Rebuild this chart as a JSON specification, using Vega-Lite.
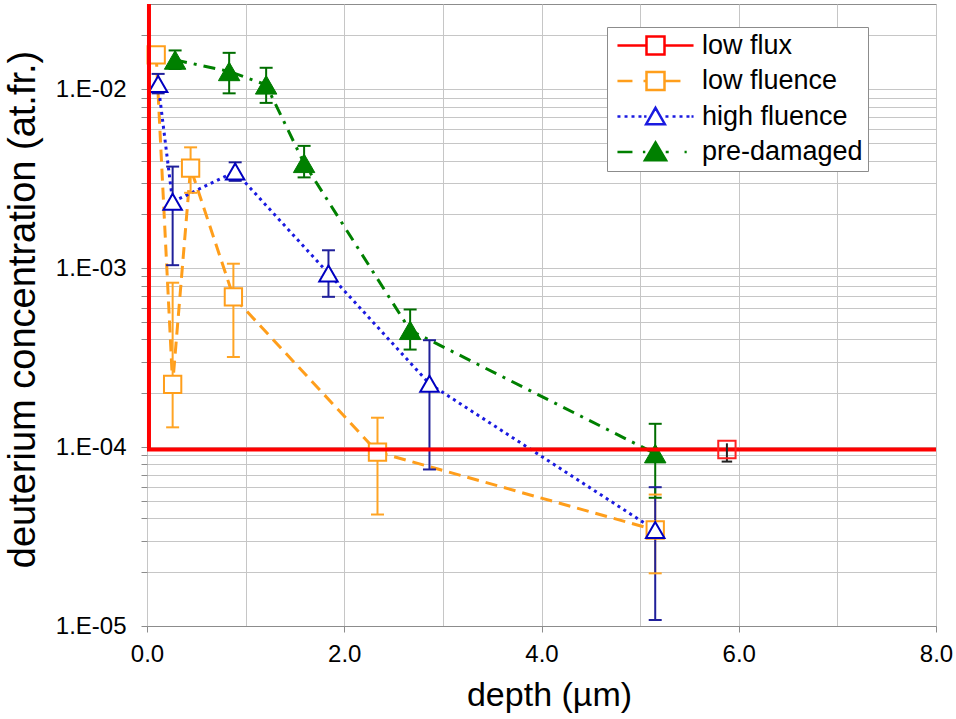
{
  "$schema": "https://vega.github.io/schema/vega-lite/v6.json",
  "width": 789,
  "height": 622,
  "autosize": {"type": "none"},
  "padding": {"left": 147, "top": 4, "right": 20, "bottom": 93},
  "background": "white",
  "config": {
    "font": "Liberation Sans",
    "view": {"stroke": "#8c8c8c", "strokeWidth": 1}
  },
  "datasets": {
    "pts": [
      {"series": "low fluence", "x": 0.093, "y": 0.0156, "lo": 0.0141, "hi": 0.0168},
      {"series": "low fluence", "x": 0.26, "y": 0.000224, "lo": 0.000129, "hi": 0.00083},
      {"series": "low fluence", "x": 0.442, "y": 0.00363, "lo": 0.00264, "hi": 0.00474},
      {"series": "low fluence", "x": 0.876, "y": 0.000692, "lo": 0.000319, "hi": 0.00106},
      {"series": "low fluence", "x": 2.337, "y": 0.0000938, "lo": 0.000042, "hi": 0.000146},
      {"series": "low fluence", "x": 5.153, "y": 0.0000344, "lo": 0.0000197, "hi": 0.0000543},
      {"series": "high fluence", "x": 0.113, "y": 0.0107, "lo": 0.0095, "hi": 0.0122},
      {"series": "high fluence", "x": 0.26, "y": 0.00235, "lo": 0.00104, "hi": 0.0037},
      {"series": "high fluence", "x": 0.894, "y": 0.00347, "lo": 0.00308, "hi": 0.00391},
      {"series": "high fluence", "x": 1.84, "y": 0.000935, "lo": 0.000692, "hi": 0.00126},
      {"series": "high fluence", "x": 2.864, "y": 0.000226, "lo": 0.000075, "hi": 0.000396},
      {"series": "high fluence", "x": 5.153, "y": 0.0000344, "lo": 0.0000108, "hi": 0.0000597},
      {"series": "pre-damaged", "x": 0.285, "y": 0.0146, "lo": 0.013, "hi": 0.0165},
      {"series": "pre-damaged", "x": 0.833, "y": 0.0126, "lo": 0.0095, "hi": 0.016},
      {"series": "pre-damaged", "x": 1.208, "y": 0.0106, "lo": 0.0084, "hi": 0.0132},
      {"series": "pre-damaged", "x": 1.593, "y": 0.00386, "lo": 0.00322, "hi": 0.00483},
      {"series": "pre-damaged", "x": 2.668, "y": 0.00045, "lo": 0.000351, "hi": 0.000588},
      {"series": "pre-damaged", "x": 5.153, "y": 0.000092, "lo": 0.0000521, "hi": 0.000135}
    ],
    "flux": [
      {"series": "low flux", "i": 0, "x": 0.02, "y": 0.03},
      {"series": "low flux", "i": 1, "x": 0.02, "y": 0.000097},
      {"series": "low flux", "i": 2, "x": 8.0, "y": 0.000097}
    ],
    "fluxpt": [
      {"series": "low flux", "x": 5.88, "y": 0.000097, "lo": 0.000083, "hi": 0.000105}
    ]
  },
  "layer": [
    {
      "data": {"name": "pts"},
      "mark": {"type": "line", "interpolate": "linear", "strokeWidth": 3},
      "encoding": {
        "x": {
          "field": "x", "type": "quantitative",
          "scale": {"domain": [0, 8], "nice": false, "zero": false},
          "axis": {
            "title": "depth (µm)",
            "values": [0, 1, 2, 3, 4, 5, 6, 7, 8],
            "labelExpr": "datum.value % 2 == 0 ? format(datum.value, '.1f') : ''",
            "grid": true, "gridColor": "#c6c6c6", "gridWidth": 1,
            "domain": true, "domainColor": "#8c8c8c",
            "ticks": true, "tickColor": "#8c8c8c", "tickSize": 6,
            "tickOpacity": {"condition": {"test": "datum.value % 2 == 0", "value": 1}, "value": 0},
            "labelFontSize": 24, "labelColor": "black", "labelPadding": 10,
            "labelFlush": false, "labelOverlap": false,
            "titleFontSize": 34, "titleFontWeight": "normal", "titleColor": "black",
            "titleBaseline": "alphabetic", "titleX": 402, "titleY": 79
          }
        },
        "y": {
          "field": "y", "type": "quantitative",
          "scale": {"type": "log", "domain": [0.00001, 0.03], "nice": false},
          "axis": {
            "title": "deuterium concentration (at.fr.)",
            "values": [0.00001, 0.00002, 0.00003, 0.00004, 0.00005, 0.00006, 0.00007, 0.00008, 0.00009,
                       0.0001, 0.0002, 0.0003, 0.0004, 0.0005, 0.0006, 0.0007, 0.0008, 0.0009,
                       0.001, 0.002, 0.003, 0.004, 0.005, 0.006, 0.007, 0.008, 0.009,
                       0.01, 0.02],
            "labelExpr": "abs(log(datum.value)/LN10 - round(log(datum.value)/LN10)) < 0.01 ? '1.E-0' + format(-round(log(datum.value)/LN10), 'd') : ''",
            "grid": true, "gridColor": "#c6c6c6", "gridWidth": 1,
            "domain": false,
            "ticks": true, "tickColor": "#8c8c8c", "tickSize": 6,
            "labelFontSize": 24, "labelColor": "black", "labelPadding": 15,
            "labelOverlap": false, "labelBound": false, "labelFlush": false,
            "titleFontSize": 38, "titleFontWeight": "normal", "titleColor": "black",
            "titleAngle": 270, "titleAlign": "center", "titleBaseline": "alphabetic",
            "titleX": -113, "titleY": 305
          }
        },
        "color": {
          "field": "series", "type": "nominal",
          "scale": {
            "domain": ["low flux", "low fluence", "high fluence", "pre-damaged"],
            "range": ["#ff0000", "#ff9e1b", "#1a1ae0", "#008000"]
          },
          "legend": {
            "title": null,
            "orient": "none", "legendX": 460, "legendY": 23,
            "fillColor": "white", "strokeColor": "#8c8c8c", "padding": 5,
            "labelFontSize": 27, "labelColor": "black", "labelLimit": 300,
            "symbolSize": 576, "symbolStrokeWidth": 2.5,
            "symbolOffset": 30, "labelOffset": 33, "rowPadding": 6.5,
            "encode": {
              "symbols": {
                "update": {
                  "shape": [
                    {"test": "datum.value == 'low flux'", "value": "M-3.17,0H-0.75M0.75,0H3.17M-0.75,-0.75H0.75V0.75H-0.75Z"},
                    {"test": "datum.value == 'low fluence'", "value": "M-3.17,0H-1.92M-1.0,0H-0.75M0.83,0H2.08M-0.75,-0.75H0.75V0.75H-0.75Z"},
                    {"test": "datum.value == 'high fluence'", "value": "M-3.17,0H-2.92M-2.58,0H-2.33M-2.0,0H-1.75M-1.42,0H-1.17M-0.95,0H-0.75M0.83,0H1.08M1.42,0H1.67M2.0,0H2.25M2.58,0H2.83M3.0,0H3.17M0,-0.72L0.78,0.64L-0.78,0.64Z"},
                    {"value": "M-3.17,0H-1.92M-1.05,0H-0.85M0.85,0H1.1M2.42,0H2.6M0,-0.8L0.88,0.68L-0.88,0.68Z"}
                  ],
                  "fill": [
                    {"test": "datum.value == 'pre-damaged'", "value": "#008000"},
                    {"value": "white"}
                  ],
                  "stroke": [
                    {"test": "datum.value == 'low flux'", "value": "#ff0000"},
                    {"test": "datum.value == 'low fluence'", "value": "#ff9e1b"},
                    {"test": "datum.value == 'high fluence'", "value": "#0000cc"},
                    {"value": "#008000"}
                  ],
                  "strokeWidth": {"value": 2.5},
                  "opacity": {"value": 1},
                  "size": {"value": 576}
                }
              }
            }
          }
        },
        "strokeDash": {
          "field": "series", "type": "nominal",
          "scale": {
            "domain": ["low fluence", "high fluence", "pre-damaged"],
            "range": [[12, 7], [3, 4], [12, 7, 3, 7]]
          },
          "legend": null
        }
      }
    },
    {
      "data": {"name": "pts"},
      "mark": {"type": "rule", "strokeWidth": 2},
      "encoding": {
        "x": {"field": "x", "type": "quantitative"},
        "y": {"field": "lo", "type": "quantitative"},
        "y2": {"field": "hi"},
        "stroke": {
          "field": "series", "type": "nominal",
          "scale": {"domain": ["low fluence", "high fluence", "pre-damaged"], "range": ["#ffa424", "#20209a", "#006e00"]},
          "legend": null
        }
      }
    },
    {
      "data": {"name": "pts"},
      "mark": {"type": "point", "shape": "stroke", "size": 169, "strokeWidth": 2, "filled": false, "opacity": 1},
      "encoding": {
        "x": {"field": "x", "type": "quantitative"},
        "y": {"field": "hi", "type": "quantitative"},
        "stroke": {"field": "series", "type": "nominal", "legend": null}
      }
    },
    {
      "data": {"name": "pts"},
      "mark": {"type": "point", "shape": "stroke", "size": 169, "strokeWidth": 2, "filled": false, "opacity": 1},
      "encoding": {
        "x": {"field": "x", "type": "quantitative"},
        "y": {"field": "lo", "type": "quantitative"},
        "stroke": {"field": "series", "type": "nominal", "legend": null}
      }
    },
    {
      "data": {"name": "pts"},
      "transform": [{"filter": "datum.series == 'low fluence'"}],
      "mark": {"type": "point", "shape": "square", "size": 300, "strokeWidth": 2, "stroke": "#ff9e1b", "fill": "white", "fillOpacity": 1, "opacity": 1, "filled": false},
      "encoding": {
        "x": {"field": "x", "type": "quantitative"},
        "y": {"field": "y", "type": "quantitative"}
      }
    },
    {
      "data": {"name": "pts"},
      "transform": [{"filter": "datum.series == 'high fluence'"}],
      "mark": {"type": "point", "shape": "triangle-up", "size": 340, "strokeWidth": 2, "stroke": "#0000c0", "fill": "white", "fillOpacity": 1, "opacity": 1, "filled": false},
      "encoding": {
        "x": {"field": "x", "type": "quantitative"},
        "y": {"field": "y", "type": "quantitative"}
      }
    },
    {
      "data": {"name": "pts"},
      "transform": [{"filter": "datum.series == 'pre-damaged'"}],
      "mark": {"type": "point", "shape": "triangle-up", "size": 460, "strokeWidth": 1, "stroke": "#007a00", "fill": "#008000", "fillOpacity": 1, "opacity": 1, "filled": true},
      "encoding": {
        "x": {"field": "x", "type": "quantitative"},
        "y": {"field": "y", "type": "quantitative"}
      }
    },
    {
      "data": {"name": "flux"},
      "mark": {"type": "line", "strokeWidth": 4, "interpolate": "linear"},
      "encoding": {
        "x": {"field": "x", "type": "quantitative"},
        "y": {"field": "y", "type": "quantitative"},
        "order": {"field": "i", "type": "quantitative"},
        "color": {"field": "series", "type": "nominal"}
      }
    },
    {
      "data": {"name": "fluxpt"},
      "mark": {"type": "rule", "strokeWidth": 2, "color": "#222222"},
      "encoding": {
        "x": {"field": "x", "type": "quantitative"},
        "y": {"field": "lo", "type": "quantitative"},
        "y2": {"field": "hi"}
      }
    },
    {
      "data": {"name": "fluxpt"},
      "mark": {"type": "point", "shape": "stroke", "size": 110, "strokeWidth": 2, "stroke": "#222222", "filled": false, "opacity": 1},
      "encoding": {
        "x": {"field": "x", "type": "quantitative"},
        "y": {"field": "lo", "type": "quantitative"}
      }
    },
    {
      "data": {"name": "fluxpt"},
      "mark": {"type": "point", "shape": "square", "size": 300, "strokeWidth": 2, "stroke": "#ff2020", "fill": "transparent", "opacity": 1, "filled": false},
      "encoding": {
        "x": {"field": "x", "type": "quantitative"},
        "y": {"field": "y", "type": "quantitative"}
      }
    }
  ]
}
